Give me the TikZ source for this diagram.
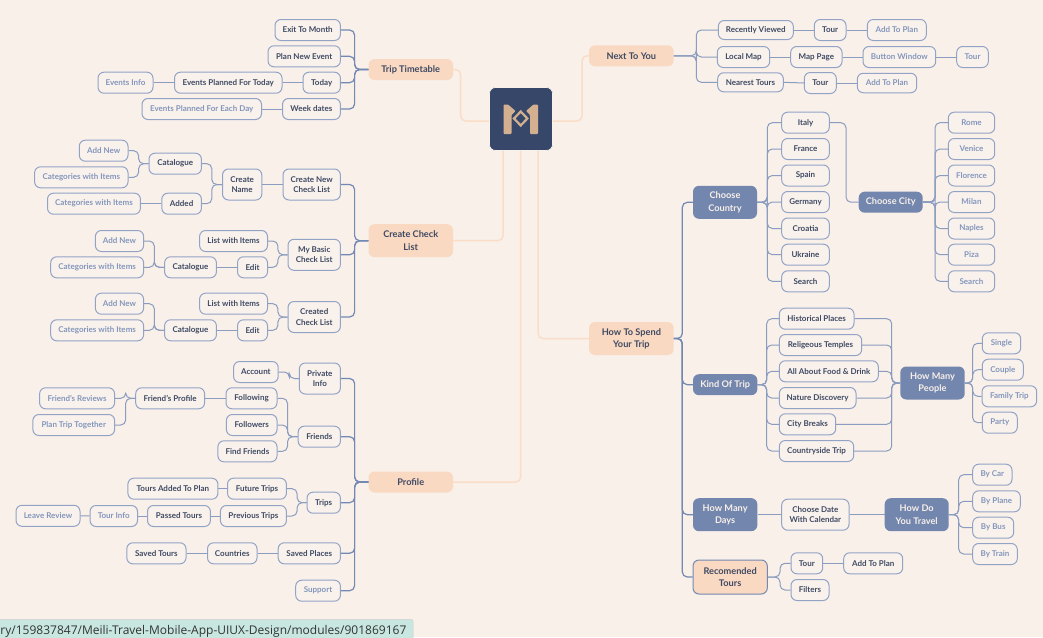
\documentclass[tikz,border=0pt]{standalone}
\usepackage{fontspec}
\setmainfont{Lato}[BoldFont={Lato Bold}]
\newfontfamily\statusfont{Open Sans}
\definecolor{bgc}{HTML}{F8F0E9}
\definecolor{fillc}{HTML}{F9F2EC}
\definecolor{edgec}{HTML}{93A3C6}
\definecolor{linkc}{HTML}{8A9CC0}
\definecolor{trunkc}{HTML}{7388B2}
\definecolor{darkt}{HTML}{3F4A63}
\definecolor{litet}{HTML}{8496BC}
\definecolor{hubb}{HTML}{7386AD}
\definecolor{hubo}{HTML}{FAD9C2}
\definecolor{logoc}{HTML}{36476A}
\definecolor{tanc}{HTML}{D3B08F}
\definecolor{orl}{HTML}{FBDDC7}
\definecolor{statusc}{HTML}{C9E7E1}
\tikzset{
  base/.style={rounded corners=6pt,inner sep=0pt,align=center,font=\fontsize{8}{10.3}\selectfont\bfseries},
  leaf/.style={base,draw=edgec,line width=1pt,fill=fillc,text=darkt},
  lite/.style={base,draw=edgec,line width=1pt,fill=fillc,text=litet},
  hubblue/.style={base,fill=hubb,text=bgc,font=\fontsize{9.2}{12.3}\selectfont\bfseries},
  huborange/.style={base,fill=hubo,text=darkt,font=\fontsize{9.2}{12.3}\selectfont\bfseries},
  huboline/.style={base,fill=hubo,draw=trunkc,line width=1pt,text=darkt,font=\fontsize{9.2}{12.3}\selectfont\bfseries},
  link/.style={draw=linkc,line width=1pt,rounded corners=5pt},
  trunk/.style={draw=trunkc,line width=1.2pt,rounded corners=5pt},
  olink/.style={draw=orl,line width=1.5pt,rounded corners=5pt},
}
\newcommand\bx[7]{%
  \pgfmathsetmacro\cxv{(#2+#3)/2}\pgfmathsetmacro\wv{#3-#2}%
  \node[#6,minimum width=\wv pt,minimum height=#5pt] (#1) at (\cxv,#4) {#7};}
\newcommand\kids[3]{\foreach \c in {#1} \draw[link] (\c.east) -| (#2) -- (#3.west);}
\newcommand\kidsr[3]{\foreach \c in {#1} \draw[link] (\c.west) -| (#2) -- (#3.east);}
\newcommand\tkids[3]{\foreach \c in {#1} \draw[trunk] (\c.east) -| (#2) -- (#3.west);}
\newcommand\tkidsr[3]{\foreach \c in {#1} \draw[trunk] (\c.west) -| (#2) -- (#3.east);}
\newcommand\chain[1]{\foreach \a/\b in {#1} \draw[link] (\a.east) -- (\b.west);}
\begin{document}
\begin{tikzpicture}[x=1pt,y=-1pt]
\useasboundingbox (0,0) rectangle (1043,637);
\fill[bgc] (0,0) rectangle (1043,637);
% centre
\node[fill=logoc,rounded corners=6pt,draw=fillc,line width=.6pt,minimum width=63pt,minimum height=63pt,inner sep=0pt] (logo) at (521,119) {};
\fill[tanc,rounded corners=.8pt] (503.5,104.5) -- (508,104.5) -- (515.5,111) -- (511.5,115) -- (511.5,134) -- (503.5,134) -- cycle;
\fill[tanc,rounded corners=.8pt] (538,104.5) -- (533.5,104.5) -- (526,111) -- (530,115) -- (530,134) -- (538,134) -- cycle;
\draw[tanc,line width=2.2pt] (520.7,111.5) -- (527.4,118.5) -- (520.7,125.5) -- (514,118.5) -- cycle;
% Trip timetable
\bx{tt}{368.5}{453}{69.5}{21}{huborange}{Trip Timetable}
\bx{exit}{275}{340.4}{30}{21}{leaf}{Exit To Month}
\bx{plan}{268}{340.4}{56.3}{21}{leaf}{Plan New Event}
\bx{today}{303}{340.4}{82.7}{21}{leaf}{Today}
\bx{evday}{174.5}{282}{82.7}{21}{leaf}{Events Planned For Today}
\bx{evinfo}{98}{153}{82.7}{21}{lite}{Events Info}
\bx{week}{282.5}{340.4}{109}{21}{leaf}{Week dates}
\bx{eveach}{142}{261.5}{109}{21}{lite}{Events Planned For Each Day}
% Check list
\bx{cl}{368.5}{453}{240.7}{33}{huborange}{Create Check\\List}
\bx{cnew}{283}{340.4}{184.5}{31}{leaf}{Create New\\Check List}
\bx{cname}{222.5}{261.8}{184.5}{31}{leaf}{Create\\Name}
\bx{cat1}{149}{201.4}{163.7}{21}{leaf}{Catalogue}
\bx{add1}{79.3}{128}{150.7}{21}{lite}{Add New}
\bx{items1}{34.6}{128}{177.3}{21}{lite}{Categories with Items}
\bx{added}{161.8}{201.4}{203.7}{21}{leaf}{Added}
\bx{items2}{47.5}{140.4}{203.7}{21}{lite}{Categories with Items}
\bx{basic}{288}{340.4}{254.8}{31}{leaf}{My Basic\\Check List}
\bx{list2}{199.6}{267.5}{241}{21}{leaf}{List with Items}
\bx{edit2}{237.5}{267.5}{267.3}{21}{leaf}{Edit}
\bx{cat2}{164.6}{216.4}{267.3}{21}{leaf}{Catalogue}
\bx{add2}{95.4}{143.6}{241}{21}{lite}{Add New}
\bx{items3}{50.7}{143.6}{267.3}{21}{lite}{Categories with Items}
\bx{made}{288}{340.4}{317}{31}{leaf}{Created\\Check List}
\bx{list3}{199.6}{267.5}{303.7}{21}{leaf}{List with Items}
\bx{edit3}{237.5}{267.5}{330.3}{21}{leaf}{Edit}
\bx{cat3}{164.6}{216.4}{330.3}{21}{leaf}{Catalogue}
\bx{add3}{95.4}{143.6}{303.7}{21}{lite}{Add New}
\bx{items4}{50.7}{143.6}{330.3}{21}{lite}{Categories with Items}
% Profile
\bx{prof}{368.5}{453}{482}{21}{huborange}{Profile}
\bx{priv}{299.3}{340.4}{378.5}{31}{leaf}{Private\\Info}
\bx{acct}{233.6}{278.2}{372}{21}{leaf}{Account}
\bx{frev}{39.6}{114.6}{398.3}{21}{lite}{Friend's Reviews}
\bx{fprof}{135.7}{204.6}{398.3}{21}{leaf}{Friend's Profile}
\bx{foll}{226}{277}{398.3}{21}{leaf}{Following}
\bx{ptt}{32.9}{114.6}{425}{21}{lite}{Plan Trip Together}
\bx{fers}{226.4}{277}{425}{21}{leaf}{Followers}
\bx{find}{217.9}{277}{451.3}{21}{leaf}{Find Friends}
\bx{frnd}{298.2}{340.4}{436.7}{21}{leaf}{Friends}
\bx{tadd}{127.9}{217.9}{488.7}{21}{leaf}{Tours Added To Plan}
\bx{fut}{227.5}{286.4}{488.7}{21}{leaf}{Future Trips}
\bx{trips}{307}{340.4}{502.7}{21}{leaf}{Trips}
\bx{leave}{16}{80}{515.8}{21}{lite}{Leave Review}
\bx{tinfo}{90}{137.5}{516}{21}{lite}{Tour Info}
\bx{pass}{147.5}{210.4}{516}{21}{leaf}{Passed Tours}
\bx{prev}{220.4}{286.4}{516}{21}{leaf}{Previous Trips}
\bx{stours}{126.8}{186}{553.3}{21}{leaf}{Saved Tours}
\bx{ctry}{207.5}{257}{553.3}{21}{leaf}{Countries}
\bx{splace}{278.2}{340.4}{553.3}{21}{leaf}{Saved Places}
\bx{supp}{295.7}{340.4}{590.7}{21}{lite}{Support}
% Next to you
\bx{next}{589}{673.7}{55.8}{21}{huborange}{Next To You}
\bx{recent}{718.3}{793.3}{30}{19}{leaf}{Recently Viewed}
\bx{rtour}{814.3}{846}{30}{21}{leaf}{Tour}
\bx{rplan}{867.3}{926.3}{30}{21}{lite}{Add To Plan}
\bx{lmap}{717.3}{769.7}{57}{21}{leaf}{Local Map}
\bx{mpage}{790.7}{842}{57}{21}{leaf}{Map Page}
\bx{bwin}{863}{935.7}{57}{21}{lite}{Button Window}
\bx{btour}{956.7}{988.3}{57}{21}{lite}{Tour}
\bx{near}{717.7}{783.3}{82.3}{19}{leaf}{Nearest Tours}
\bx{ntour}{804.3}{836.3}{83}{21}{leaf}{Tour}
\bx{nplan}{857.3}{916.7}{83}{19.5}{lite}{Add To Plan}
% How to spend
\bx{spend}{589}{673.7}{338.5}{33}{huborange}{How To Spend\\Your Trip}
\bx{ccountry}{693}{757}{202.3}{33}{hubblue}{Choose\\Country}
\bx{ccity}{858.7}{922.7}{202.2}{21}{hubblue}{Choose City}
\bx{italy}{781.7}{829.3}{122.7}{21}{leaf}{Italy}
\bx{france}{781.7}{829.3}{149}{21}{leaf}{France}
\bx{spain}{781.7}{829.3}{175.5}{21}{leaf}{Spain}
\bx{germany}{781.7}{829.3}{202}{21}{leaf}{Germany}
\bx{croatia}{781.7}{829.3}{228.5}{21}{leaf}{Croatia}
\bx{ukraine}{781.7}{829.3}{254.7}{21}{leaf}{Ukraine}
\bx{search}{781.7}{829.3}{281.3}{21}{leaf}{Search}
\bx{rome}{948.3}{994.7}{122.7}{21}{lite}{Rome}
\bx{venice}{948.3}{994.7}{149}{21}{lite}{Venice}
\bx{flor}{948.3}{994.7}{175.5}{21}{lite}{Florence}
\bx{milan}{948.3}{994.7}{202}{21}{lite}{Milan}
\bx{naples}{948.3}{994.7}{228.5}{21}{lite}{Naples}
\bx{piza}{948.3}{994.7}{254.7}{21}{lite}{Piza}
\bx{csearch}{948.3}{994.7}{281.3}{21}{lite}{Search}
\bx{kind}{693}{757.3}{384.7}{21}{hubblue}{Kind Of Trip}
\bx{hist}{779.3}{854}{318.7}{21}{leaf}{Historical Places}
\bx{relig}{779.3}{861.7}{345}{21}{leaf}{Religeous Temples}
\bx{food}{779.3}{878.3}{371.3}{21}{leaf}{All About Food \& Drink}
\bx{nature}{779.3}{856}{398}{21}{leaf}{Nature Discovery}
\bx{city}{779.3}{835.7}{424.3}{21}{leaf}{City Breaks}
\bx{side}{779.3}{853.7}{451}{21}{leaf}{Countryside Trip}
\bx{people}{900.3}{964.7}{383}{33}{hubblue}{How Many\\People}
\bx{single}{982.3}{1020.7}{343.3}{21}{lite}{Single}
\bx{couple}{982.3}{1023.3}{369.7}{21}{lite}{Couple}
\bx{family}{982}{1036.7}{396.3}{21}{lite}{Family Trip}
\bx{party}{982.3}{1017.3}{422.7}{21}{lite}{Party}
\bx{days}{693}{757.3}{514.7}{33}{hubblue}{How Many\\Days}
\bx{date}{781.7}{849}{514.7}{31}{leaf}{Choose Date\\With Calendar}
\bx{travel}{884.7}{948.7}{514.7}{33}{hubblue}{How Do\\You Travel}
\bx{car}{972.7}{1012}{474.7}{21}{lite}{By Car}
\bx{plane}{972.7}{1020.3}{501.3}{21}{lite}{By Plane}
\bx{bus}{972.7}{1013.7}{527.7}{21}{lite}{By Bus}
\bx{train}{972.7}{1017.3}{554}{21}{lite}{By Train}
\bx{recom}{693}{767.3}{577}{34}{huboline}{Recomended\\Tours}
\bx{retour}{791}{822.7}{563.3}{21}{leaf}{Tour}
\bx{replan}{843.7}{902.7}{563.3}{21}{leaf}{Add To Plan}
\bx{filt}{791}{829}{590}{21}{leaf}{Filters}
% hubs
\coordinate (h1) at (354.6,69.5);
\coordinate (h2) at (354.6,240.7);
\coordinate (h3) at (354.6,482);
\coordinate (h4) at (211.8,184.5);
\coordinate (h5) at (138.6,163.7);
\coordinate (h6) at (277.9,254.8);
\coordinate (h7) at (154.3,267.3);
\coordinate (h8) at (277.9,317);
\coordinate (h9) at (154.3,330.3);
\coordinate (h10) at (289.3,378.5);
\coordinate (h11) at (287.5,436.7);
\coordinate (h12) at (125.7,398.3);
\coordinate (h13) at (297.1,502.7);
\coordinate (h14) at (696.3,55.8);
\coordinate (h15) at (682.3,338.5);
\coordinate (h16) at (767.3,202.3);
\coordinate (h17) at (846,202.2);
\coordinate (h18) at (935,202.2);
\coordinate (h19) at (766.7,384.7);
\coordinate (h20) at (891.7,383);
\coordinate (h21) at (972.7,383);
\coordinate (h22) at (958.7,514.7);
\coordinate (h23) at (780,577);
% blue links
\tkids{exit,plan,today,week}{h1}{tt}
\tkids{cnew,basic,made}{h2}{cl}
\tkids{priv,frnd,trips,splace,supp}{h3}{prof}
\kids{cat1,added}{h4}{cname}
\kids{add1,items1}{h5}{cat1}
\kids{list2,edit2}{h6}{basic}
\kids{add2,items3}{h7}{cat2}
\kids{list3,edit3}{h8}{made}
\kids{add3,items4}{h9}{cat3}
\kids{acct}{h10}{priv}
\kids{foll,fers,find}{h11}{frnd}
\kids{frev,ptt}{h12}{fprof}
\kids{fut,prev}{h13}{trips}
\kids{italy}{h17}{ccity}
\kids{hist,relig,food,nature,city,side}{h20}{people}
\kidsr{recent,lmap,near}{h14}{next}
\tkidsr{ccountry,kind,days,recom}{h15}{spend}
\kidsr{italy,france,spain,germany,croatia,ukraine,search}{h16}{ccountry}
\kidsr{rome,venice,flor,milan,naples,piza,csearch}{h18}{ccity}
\kidsr{hist,relig,food,nature,city,side}{h19}{kind}
\kidsr{single,couple,family,party}{h21}{people}
\kidsr{car,plane,bus,train}{h22}{travel}
\kidsr{retour,filt}{h23}{recom}
\chain{evinfo/evday,evday/today,eveach/week,cname/cnew,items2/added,cat2/edit2,cat3/edit3,fprof/foll,tadd/fut,leave/tinfo,tinfo/pass,pass/prev,stours/ctry,ctry/splace,recent/rtour,rtour/rplan,lmap/mpage,mpage/bwin,bwin/btour,near/ntour,ntour/nplan,days/date,date/travel,retour/replan}
% orange links
\coordinate (o1) at (460.7,121);
\coordinate (o1a) at (460.7,69.5);
\coordinate (o2) at (582,121);
\coordinate (o2a) at (582,55.8);
\coordinate (o3) at (503,150.5);
\coordinate (o4) at (520.7,150.5);
\coordinate (o5) at (538,150.5);
\draw[olink] (logo.west |- o1) -- (o1) -- (o1a) -- (tt.east);
\draw[olink] (logo.east |- o2) -- (o2) -- (o2a) -- (next.west);
\draw[olink] (o3) |- (cl.east);
\draw[olink] (o4) |- (prof.east);
\draw[olink] (o5) |- (spend.west);
% status bar
\begin{scope}
\clip (0,0) rectangle (1043,637);
\path[fill=statusc,draw=gray!40,line width=.5pt,rounded corners=2pt] (-5,619.5) rectangle (413,645);
\node[anchor=base east,inner sep=0pt,text=black!80,font=\statusfont\fontsize{12}{12}\selectfont] (status) at (406.5,634) {llery/159837847/Meili-Travel-Mobile-App-UIUX-Design/modules/901869167};
\end{scope}
\end{tikzpicture}
\end{document}
